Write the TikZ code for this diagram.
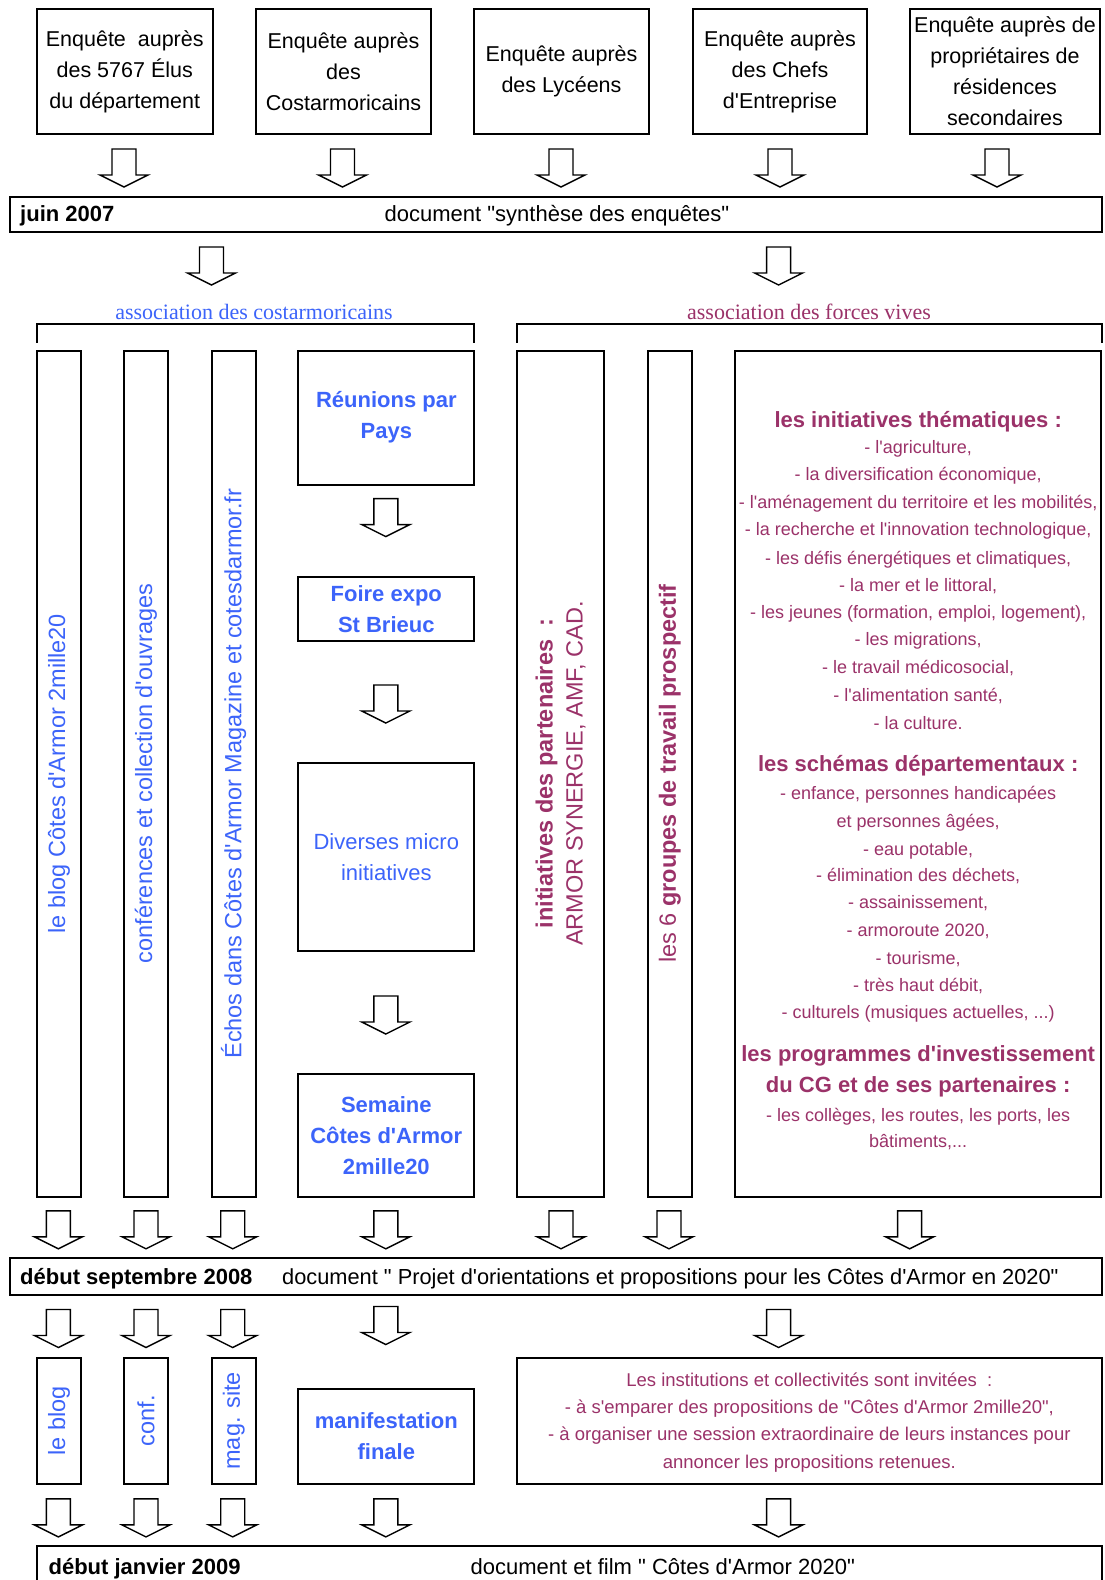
\documentclass[tikz,border=0pt]{standalone}
\usepackage{fontspec}
\setmainfont{Liberation Sans}[Ligatures=TeXOff]
\newfontfamily\assocfont{Liberation Serif}[Ligatures=TeXOff]
\definecolor{cblue}{RGB}{60,100,250}
\definecolor{cpurple}{RGB}{155,50,105}
\tikzset{
  box/.style={draw=black, line width=2pt, inner sep=1pt, align=center},
  enq/.style={box, minimum height=125pt, font=\fontsize{21.5}{31}\selectfont},
  stackbox/.style={box, minimum width=176.2pt, text=cblue},
  colbox/.style={box, rotate=90, minimum width=846.2pt, inner sep=0pt, font=\fontsize{23.5}{30}\selectfont},
  smallcol/.style={box, rotate=90, minimum width=126pt, inner sep=0pt, text=cblue, font=\fontsize{23.5}{30}\selectfont},
  lbl/.style={inner sep=0pt, anchor=mid, yshift=-5.5pt},
  bigtxt/.style={lbl, font=\fontsize{22}{26}\selectfont},
  boldtxt/.style={lbl, font=\bfseries\fontsize{22}{26}\selectfont},
  itemtxt/.style={lbl, text=cpurple, font=\fontsize{18}{22}\selectfont},
  titletxt/.style={lbl, text=cpurple, font=\bfseries\fontsize{22}{26}\selectfont},
  assoc/.style={lbl, font=\assocfont\fontsize{22}{26}\selectfont},
  bracket/.style={line width=2pt},
  darrow/.pic={\draw[line width=1.4pt, fill=white, line join=miter]
     (-12,0) -- (12,0) -- (12,26) -- (24,26) -- (0,38) -- (-24,26) -- (-12,26) -- cycle;}
}
\begin{document}
\begin{tikzpicture}[x=1pt,y=-1pt]
\useasboundingbox (0,0) rectangle (1104,1580);
\fill[white] (0,0) rectangle (1104,1580);
\clip (0,0) rectangle (1104,1580);

% top survey boxes
\node[enq, minimum width=175.5pt] (e1) at (124.75,71.5) {Enquête\ \ auprès\\des 5767 Élus\\du département};
\node[enq, minimum width=175pt] (e2) at (343.5,71.5) {Enquête auprès\\des\\Costarmoricains};
\node[enq, minimum width=175pt] (e3) at (561.5,71.5) {Enquête auprès\\des Lycéens};
\node[enq, minimum width=174pt] (e4) at (780,71.5) {Enquête auprès\\des Chefs\\d'Entreprise};
\node[enq, minimum width=190pt] (e5) at (1005,71.5) {Enquête auprès de\\propriétaires de\\résidences\\secondaires};

\foreach \x in {124,342.5,561,780,997} \pic at (\x,149) {darrow};

% juin 2007
\node[box, minimum width=1092pt, minimum height=35.2pt] (juin) at (556,214.1) {};
\node[boldtxt, anchor=mid west] (juinlbl) at (20,213.5) {juin 2007};
\node[bigtxt] (juindoc) at (557,213.5) {document "synthèse des enquêtes"};

\pic at (211.5,247) {darrow};
\pic at (778.6,247) {darrow};

% associations
\node[assoc, text=cblue] (assoc1) at (254,311) {association des costarmoricains};
\node[assoc, text=cpurple] (assoc2) at (809,311) {association des forces vives};
\draw[bracket] (37.3,342.5) -- (37.3,324.3) -- (474.4,324.3) -- (474.4,342.5);
\draw[bracket] (516.7,342.5) -- (516.7,324.3) -- (1102,324.3) -- (1102,342.5);

% left columns
\node[colbox, minimum height=43.3pt, text=cblue] (c1) at (59,773.6) {le blog Côtes d'Armor 2mille20};
\node[colbox, minimum height=44.3pt, text=cblue] (c2) at (146,773.6) {conférences et collection d'ouvrages};
\node[colbox, minimum height=44.4pt, text=cblue] (c3) at (233.7,773.6) {Échos dans Côtes d'Armor Magazine et cotesdarmor.fr};

% stack
\node[stackbox, minimum height=134pt, font=\bfseries\fontsize{22}{31}\selectfont] (reun) at (386.3,417.5) {Réunions par\\Pays};
\node[stackbox, minimum height=63.4pt, font=\bfseries\fontsize{22}{31}\selectfont] (foire) at (386.3,608.9) {Foire expo\\St Brieuc};
\node[stackbox, minimum height=187.5pt, font=\fontsize{22}{31}\selectfont] (div) at (386.3,857.2) {Diverses micro\\initiatives};
\node[stackbox, minimum height=122.9pt, font=\bfseries\fontsize{22}{31}\selectfont] (sem) at (386.3,1135.2) {Semaine\\Côtes d'Armor\\2mille20};
\pic at (385.8,498.6) {darrow};
\pic at (385.8,685) {darrow};
\pic at (385.8,996) {darrow};

% right columns
\node[colbox, minimum height=87.7pt, text=cpurple] (c5) at (560.5,773.6) {{\bfseries initiatives des partenaires\ \ :}\\ARMOR SYNERGIE, AMF, CAD.};
\node[colbox, minimum height=44.3pt, text=cpurple] (c6) at (669.8,773.6) {les 6 \textbf{groupes de travail prospectif}};
\node[box, minimum width=365.7pt, minimum height=846.2pt] (c7) at (918.2,773.6) {};

\foreach \y/\t [count=\i] in {
  419/{les initiatives thématiques :},
  763.5/{les schémas départementaux :},
  1053.6/{les programmes d'investissement},
  1084.8/{du CG et de ses partenaires :}}
  \node[titletxt] (ti\i) at (918.2,\y) {\t};

\foreach \y/\t [count=\i] in {
  445.2/{- l'agriculture,},
  472.4/{- la diversification économique,},
  500.6/{- l'aménagement du territoire et les mobilités,},
  527.8/{- la recherche et l'innovation technologique,},
  556/{- les défis énergétiques et climatiques,},
  583.2/{- la mer et le littoral,},
  610.4/{- les jeunes (formation, emploi, logement),},
  637.6/{- les migrations,},
  665.8/{- le travail médicosocial,},
  693/{- l'alimentation santé,},
  721.2/{- la culture.},
  791.7/{- enfance, personnes handicapées},
  819/{et personnes âgées,},
  847/{- eau potable,},
  873.3/{- élimination des déchets,},
  900.5/{- assainissement,},
  928.7/{- armoroute 2020,},
  956/{- tourisme,},
  983/{- très haut débit,},
  1010.3/{- culturels (musiques actuelles, ...)},
  1113/{- les collèges, les routes, les ports, les},
  1139.3/{bâtiments,...}}
  \node[itemtxt] (it\i) at (918.2,\y) {\t};

% arrows to septembre
\foreach \x in {58.4,146,232.7,385.8,561,669,909.6} \pic at (\x,1210.8) {darrow};

% septembre 2008
\node[box, minimum width=1092pt, minimum height=37.4pt] (sept) at (556,1276.7) {};
\node[boldtxt, anchor=mid west] (septlbl) at (20,1276) {début septembre 2008};
\node[bigtxt, anchor=mid west, font=\fontsize{21.8}{26}\selectfont] (septdoc) at (282,1276) {document " Projet d'orientations et propositions pour les Côtes d'Armor en 2020"};

\foreach \x in {58.4,146,232.7,778.6} \pic at (\x,1309.5) {darrow};
\pic at (385.8,1306.5) {darrow};

% lower boxes
\node[smallcol, minimum height=43.3pt] (s1) at (59,1420.8) {le blog};
\node[smallcol, minimum height=44.3pt] (s2) at (146,1420.8) {conf.};
\node[smallcol, minimum height=44.4pt] (s3) at (233.7,1420.8) {mag. site};
\node[stackbox, minimum height=94.8pt, font=\bfseries\fontsize{22}{31}\selectfont] (manif) at (386.3,1436.4) {manifestation\\finale};
\node[box, minimum width=585.3pt, minimum height=126pt] (inst) at (809.35,1420.8) {};
\foreach \y/\t [count=\i] in {
  1378/{Les institutions et collectivités sont invitées\ \ :},
  1405/{- à s'emparer des propositions de "Côtes d'Armor 2mille20",},
  1432.4/{- à organiser une session extraordinaire de leurs instances pour},
  1460.6/{annoncer les propositions retenues.}}
  \node[itemtxt, font=\fontsize{18.5}{22}\selectfont] (in\i) at (809.35,\y) {\t};

\foreach \x in {58.4,146,232.7,385.8,778.6} \pic at (\x,1498.9) {darrow};

% final
\node[box, minimum width=1064.7pt, minimum height=100pt] (fin) at (569.65,1596.2) {};
\node[boldtxt, anchor=mid west] (finlbl) at (48.4,1566.4) {début janvier 2009};
\node[bigtxt] (findoc) at (662.8,1566.4) {document et film " Côtes d'Armor 2020"};
\end{tikzpicture}
\end{document}
